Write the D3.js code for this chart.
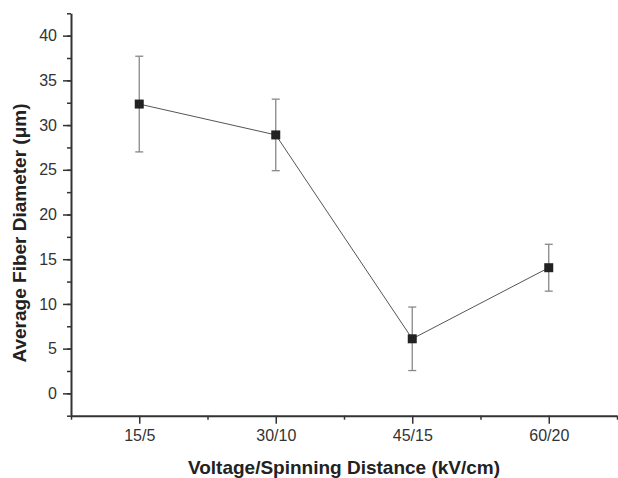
<!DOCTYPE html>
<html lang="en">
<head>
<meta charset="utf-8">
<title>Average fiber diameter</title>
<script src="https://cdn.jsdelivr.net/npm/d3@7"></script>
<style>
  body { margin: 0; background: #fff; }
  svg { display: block; font-family: "Liberation Sans", Arial, sans-serif; }
  .axis path, .axis line { stroke: #333; }
  .axis text { fill: #333; font-size: 16px; }
  .title { font-weight: bold; font-size: 19px; fill: #222; }
</style>
</head>
<body>
<script>
// data
var categories = ["15/5", "30/10", "45/15", "60/20"];
var meanDiameter = [32.35, 28.9, 6.1, 14.05];
var errDiameter = [5.35, 4.0, 3.55, 2.62];
var yTicks = [0, 5, 10, 15, 20, 25, 30, 35, 40];

var W = 618, H = 478;
var margin = { top: 13.3, right: 1, bottom: 62.3, left: 71 };

var svg = d3.select("body").append("svg")
  .attr("width", W)
  .attr("height", H);

// x: category index, half a step of padding at each end
var x = d3.scaleLinear()
  .domain([0.5, categories.length + 0.5])
  .range([margin.left, W - margin.right]);

var y = d3.scaleLinear()
  .domain([-2.5, 42.5])
  .range([H - margin.bottom, margin.top]);

var idx = categories.map(function(d, i) { return i + 1; });

// minor ticks first (short), then major
svg.append("g")
  .attr("class", "axis")
  .attr("transform", "translate(0," + y(-2.5) + ")")
  .call(d3.axisBottom(x).tickValues(d3.range(0.5, categories.length + 1, 1)).tickSize(4).tickFormat(""))
  .call(function(g) { g.select(".domain").remove(); })
  .selectAll("line").attr("stroke-width", 1.5);

svg.append("g")
  .attr("class", "axis")
  .attr("transform", "translate(" + x(0.5) + ",0)")
  .call(d3.axisLeft(y).tickValues(d3.range(-2.5, 42.6, 2.5)).tickSize(4).tickFormat(""))
  .call(function(g) { g.select(".domain").remove(); })
  .selectAll("line").attr("stroke-width", 1.5);

var xAxis = svg.append("g")
  .attr("class", "axis")
  .attr("transform", "translate(0," + y(-2.5) + ")")
  .call(d3.axisBottom(x)
    .tickValues(idx)
    .tickFormat(function(d) { return categories[d - 1]; })
    .tickSize(8)
    .tickSizeOuter(0)
    .tickPadding(6));
xAxis.select(".domain").attr("stroke-width", 2);
xAxis.selectAll("line").attr("stroke-width", 1.5);

var yAxis = svg.append("g")
  .attr("class", "axis")
  .attr("transform", "translate(" + x(0.5) + ",0)")
  .call(d3.axisLeft(y)
    .tickValues(yTicks)
    .tickSize(8)
    .tickSizeOuter(0)
    .tickPadding(6));
yAxis.select(".domain").attr("stroke-width", 2);
yAxis.selectAll("line").attr("stroke-width", 1.5);

// connecting line
var line = d3.line()
  .x(function(d, i) { return x(i + 1); })
  .y(function(d) { return y(d); });

svg.append("path")
  .datum(meanDiameter)
  .attr("fill", "none")
  .attr("stroke", "#555")
  .attr("stroke-width", 1)
  .attr("d", line);

// error bars
var eb = svg.append("g")
  .attr("stroke", "#888")
  .attr("stroke-width", 1.3);

meanDiameter.forEach(function(m, i) {
  var cx = x(i + 1), hi = y(m + errDiameter[i]), lo = y(m - errDiameter[i]);
  eb.append("line").attr("x1", cx).attr("x2", cx).attr("y1", hi).attr("y2", lo);
  eb.append("line").attr("x1", cx - 4).attr("x2", cx + 4).attr("y1", hi).attr("y2", hi);
  eb.append("line").attr("x1", cx - 4).attr("x2", cx + 4).attr("y1", lo).attr("y2", lo);
});

// square markers
svg.append("g").selectAll("rect")
  .data(meanDiameter)
  .enter().append("rect")
  .attr("x", function(d, i) { return x(i + 1) - 4.5; })
  .attr("y", function(d) { return y(d) - 4.5; })
  .attr("width", 9)
  .attr("height", 9)
  .attr("fill", "#222");

// axis titles
svg.append("text")
  .attr("class", "title")
  .attr("x", (x.range()[0] + x.range()[1]) / 2)
  .attr("y", 474)
  .attr("text-anchor", "middle")
  .text("Voltage/Spinning Distance (kV/cm)");

svg.append("text")
  .attr("class", "title")
  .attr("transform", "translate(26,233) rotate(-90)")
  .attr("text-anchor", "middle")
  .text("Average Fiber Diameter (\u03bcm)");
</script>
</body>
</html>
